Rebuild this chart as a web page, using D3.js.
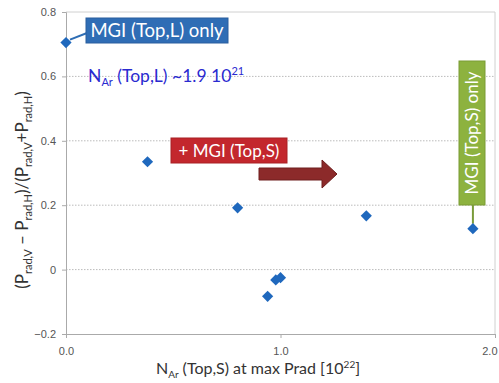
<!DOCTYPE html>
<html>
<head>
<meta charset="utf-8">
<script src="https://cdn.jsdelivr.net/npm/d3@7"></script>
<style>
	body { margin: 0; background: #fff; }
	text { font-family: Lato, 'Open Sans', sans-serif; }
</style>
</head>
<body>
<script>
// values
const nArTopS = [0.0, 0.38, 0.80, 0.94, 0.978, 1.0, 1.40, 1.897];
const radAsym = [0.705, 0.335, 0.192, -0.083, -0.032, -0.025, 0.167, 0.127];
const xTicks = [0.0, 1.0, 2.0];
const yTicks = [-0.2, 0, 0.2, 0.4, 0.6, 0.8];

const w = 499;
const h = 383;
const margin = { top: 12, right: 4, bottom: 49, left: 66 };

const svg = d3
	.select('body')
	.append('svg')
	.attr('width', w)
	.attr('height', h);

const xScale = d3
	.scaleLinear()
	.domain([0, 2])
	.range([margin.left, w - margin.right]);

const yScale = d3
	.scaleLinear()
	.domain([-0.2, 0.8])
	.range([h - margin.bottom, margin.top]);

// grid lines (dotted)
svg
	.selectAll('line.grid')
	.data(yTicks.filter(d => d > -0.2 && d < 0.8))
	.enter()
	.append('line')
	.attr('class', 'grid')
	.attr('x1', margin.left)
	.attr('x2', w - margin.right)
	.attr('y1', d => yScale(d))
	.attr('y2', d => yScale(d))
	.attr('stroke', '#bbb')
	.attr('stroke-dasharray', '1.5,1.5');

// frame top + right
svg
	.append('path')
	.attr('d', `M${margin.left},${yScale(0.8)}H${xScale(2)}V${yScale(-0.2)}`)
	.attr('fill', 'none')
	.attr('stroke', '#d0d0d0');

// axes
const xAxis = svg
	.append('g')
	.attr('transform', `translate(0,${yScale(-0.2)})`)
	.call(d3.axisBottom(xScale).tickValues(xTicks).tickFormat(d3.format('.1f')).tickSize(4).tickPadding(9));

const yAxis = svg
	.append('g')
	.attr('transform', `translate(${margin.left},0)`)
	.call(d3.axisLeft(yScale).tickValues(yTicks).tickFormat(d => (d === 0 ? '0' : d3.format('.1f')(d))).tickSize(4).tickPadding(6));

[xAxis, yAxis].forEach(g => {
	g.select('.domain').attr('stroke', '#aaa');
	g.selectAll('.tick line').attr('stroke', '#aaa');
	g.selectAll('.tick text')
		.attr('fill', '#555')
		.style('font-size', '11px')
		.style('font-family', "'Liberation Sans', sans-serif");
});
// last x label sits at the right edge, keep it inside
xAxis.selectAll('.tick text').filter(d => d === 2).attr('text-anchor', 'end').attr('dx', 2);

// annotations
// blue box
svg
	.append('line')
	.attr('x1', xScale(nArTopS[0]) + 4)
	.attr('y1', yScale(radAsym[0]) - 3)
	.attr('x2', 87)
	.attr('y2', 33)
	.attr('stroke', '#2e6db4')
	.attr('stroke-width', 2);

svg
	.append('rect')
	.attr('x', 86)
	.attr('y', 18)
	.attr('width', 142)
	.attr('height', 25)
	.attr('fill', '#2f6db5')
	.attr('stroke', '#2a5f9e');

svg
	.append('text')
	.attr('x', 157)
	.attr('y', 37)
	.attr('text-anchor', 'middle')
	.attr('fill', '#fff')
	.style('font-size', '18.5px')
	.text('MGI (Top,L) only');

// N_Ar text
const nt = svg
	.append('text')
	.attr('x', 88)
	.attr('y', 82)
	.attr('fill', '#2a2ad0')
	.style('font-size', '17.5px');
nt.append('tspan').text('N');
nt.append('tspan').attr('dy', 4).style('font-size', '11px').text('Ar');
nt.append('tspan').attr('dy', -4).text(' (Top,L) ~1.9 10');
nt.append('tspan').attr('dy', -7).style('font-size', '11px').text('21');

// red box
svg
	.append('rect')
	.attr('x', 171)
	.attr('y', 138)
	.attr('width', 116)
	.attr('height', 25)
	.attr('fill', '#c3272d')
	.attr('stroke', '#a82025');

svg
	.append('text')
	.attr('x', 229)
	.attr('y', 157)
	.attr('text-anchor', 'middle')
	.attr('fill', '#fff')
	.style('font-size', '17px')
	.text('+ MGI (Top,S)');

// dark red arrow
svg
	.append('path')
	.attr('d', 'M259,168H322V160L337,174L322,188V180H259Z')
	.attr('fill', '#8c2a2a')
	.attr('stroke', '#6e1e1e')
	.attr('stroke-width', 1);

// green box (vertical)
svg
	.append('line')
	.attr('x1', xScale(nArTopS[7]))
	.attr('y1', 205)
	.attr('x2', xScale(nArTopS[7]))
	.attr('y2', yScale(radAsym[7]) - 5)
	.attr('stroke', '#7a9b3a')
	.attr('stroke-width', 2);

svg
	.append('rect')
	.attr('x', 459)
	.attr('y', 61)
	.attr('width', 26)
	.attr('height', 144)
	.attr('fill', '#8db23f')
	.attr('stroke', '#7a9b35');

svg
	.append('text')
	.attr('transform', 'translate(478,133) rotate(-90)')
	.attr('text-anchor', 'middle')
	.attr('fill', '#fff')
	.style('font-size', '17px')
	.text('MGI (Top,S) only');

// points
svg
	.selectAll('path.pt')
	.data(nArTopS)
	.enter()
	.append('path')
	.attr('class', 'pt')
	.attr('d', d3.symbol(d3.symbolDiamond2, 80))
	.attr('transform', (d, i) => `translate(${xScale(d)},${yScale(radAsym[i])})`)
	.attr('fill', '#1f68bd');

// axis titles
const xt = svg
	.append('text')
	.attr('x', 258)
	.attr('y', 374)
	.attr('text-anchor', 'middle')
	.attr('fill', '#333')
	.style('font-size', '16px');
xt.append('tspan').text('N');
xt.append('tspan').attr('dy', 4).style('font-size', '10px').text('Ar');
xt.append('tspan').attr('dy', -4).text(' (Top,S) at max Prad [10');
xt.append('tspan').attr('dy', -6).style('font-size', '10px').text('22');
xt.append('tspan').attr('dy', 6).text(']');

const yt = svg
	.append('text')
	.attr('transform', 'translate(28,190) rotate(-90)')
	.attr('text-anchor', 'middle')
	.attr('fill', '#333')
	.style('font-size', '17px');
yt.append('tspan').text('(P');
yt.append('tspan').attr('dy', 4).style('font-size', '11px').text('rad,V');
yt.append('tspan').attr('dy', -4).text(' \u2013 P');
yt.append('tspan').attr('dy', 4).style('font-size', '11px').text('rad,H');
yt.append('tspan').attr('dy', -4).text(')/(P');
yt.append('tspan').attr('dy', 4).style('font-size', '11px').text('rad,V');
yt.append('tspan').attr('dy', -4).text('+P');
yt.append('tspan').attr('dy', 4).style('font-size', '11px').text('rad,H');
yt.append('tspan').attr('dy', -4).text(')');
</script>
</body>
</html>
